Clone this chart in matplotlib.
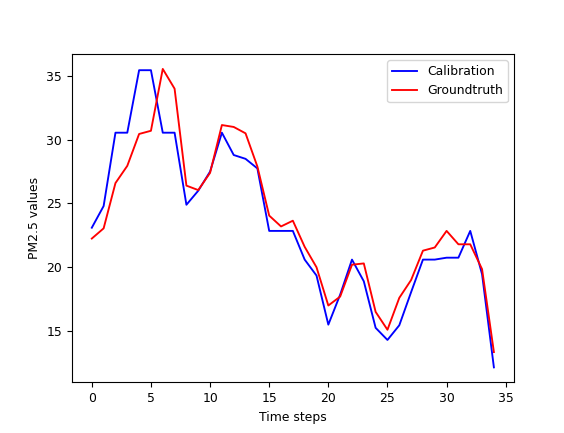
import matplotlib
matplotlib.use("Agg")
import matplotlib.pyplot as plt

calibration = [23.1, 24.8, 30.55, 30.55, 35.45, 35.45, 30.55, 30.55, 24.9, 26.0,
               27.5, 30.55, 28.8, 28.5, 27.75, 22.85, 22.85, 22.85, 20.6, 19.35,
               15.5, 17.85, 20.6, 18.9, 15.25, 14.3, 15.45, 18.05, 20.6, 20.6,
               20.75, 20.75, 22.85, 19.45, 12.15]
groundtruth = [22.25, 23.05, 26.6, 27.95, 30.45, 30.7, 35.55, 34.0, 26.4, 26.05,
               27.4, 31.15, 31.0, 30.5, 27.9, 24.05, 23.2, 23.65, 21.6, 20.0,
               17.0, 17.7, 20.2, 20.3, 16.5, 15.1, 17.6, 19.0, 21.3, 21.55,
               22.85, 21.8, 21.8, 19.85, 13.35]
steps = list(range(len(calibration)))

plt.rcParams["font.size"] = 8.9

fig = plt.figure(figsize=(5.64, 4.33), dpi=100)
ax = fig.add_axes([71.7 / 564, 1 - 382.3 / 433, 442.3 / 564, 328.3 / 433])

ax.plot(steps, calibration, color="blue", linewidth=1.35, label="Calibration")
ax.plot(steps, groundtruth, color="red", linewidth=1.35, label="Groundtruth")

ax.set_xlabel("Time steps")
ax.set_ylabel("PM2.5 values")
ax.legend(loc="upper right")

fig.savefig("out.png", dpi=100)
